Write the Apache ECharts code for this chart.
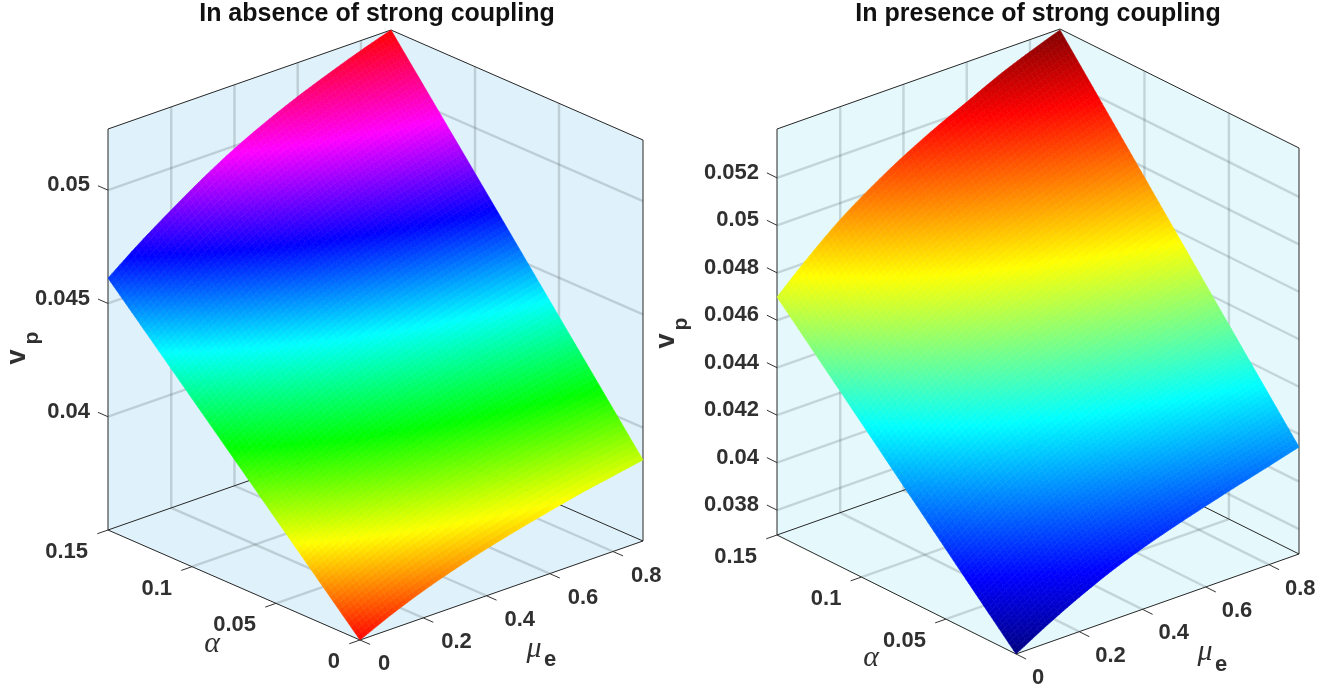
<!DOCTYPE html>
<html><head><meta charset="utf-8">
<style>html,body{margin:0;padding:0;background:#fff}#c{width:1343px;height:691px}</style>
<script src="https://cdn.jsdelivr.net/npm/echarts@6/dist/echarts.min.js"></script>
</head><body><div id="c"></div>
<script>
const titles = ['In absence of strong coupling', 'In presence of strong coupling'];
const muGrid = [0, 0.1, 0.2, 0.3, 0.4, 0.5, 0.6, 0.7, 0.8, 0.895];
const alphaGridLeft = [0, 0.05, 0.1, 0.15];
const alphaGridRight = [0.0085, 0.05, 0.1, 0.15];
const vpLeftA0 = [0.03500, 0.03564, 0.03619, 0.03666, 0.03707, 0.03743, 0.03776, 0.03807, 0.03833, 0.03858];
const vpLeftA1 = [0.03871, 0.03949, 0.04018, 0.04079, 0.04134, 0.04181, 0.04224, 0.04263, 0.04297, 0.04329];
const vpLeftA2 = [0.04242, 0.04334, 0.04417, 0.04492, 0.04561, 0.04619, 0.04672, 0.04719, 0.04761, 0.04800];
const vpLeftA3 = [0.04612, 0.04718, 0.04815, 0.04906, 0.04988, 0.05058, 0.05120, 0.05175, 0.05226, 0.05270];
const vpRightA0 = [0.03695, 0.03771, 0.03840, 0.03901, 0.03952, 0.03996, 0.04036, 0.04074, 0.04110, 0.04146];
const vpRightA1 = [0.03989, 0.04079, 0.04160, 0.04230, 0.04290, 0.04343, 0.04389, 0.04434, 0.04476, 0.04514];
const vpRightA2 = [0.04344, 0.04449, 0.04545, 0.04626, 0.04696, 0.04757, 0.04812, 0.04867, 0.04915, 0.04958];
const vpRightA3 = [0.04698, 0.04820, 0.04930, 0.05022, 0.05103, 0.05174, 0.05237, 0.05301, 0.05355, 0.05402];
const muTicks = [0, 0.2, 0.4, 0.6, 0.8];
const alphaTicksLeft = [0, 0.05, 0.1, 0.15];
const alphaTicksRight = [0.05, 0.1, 0.15];
const vpTicksLeft = [0.04, 0.045, 0.05];
const vpTicksRight = [0.038, 0.04, 0.042, 0.044, 0.046, 0.048, 0.05, 0.052];

const hsvMap = t => {
  const h = ((t % 1) + 1) % 1 * 6, i = Math.floor(h), f = h - i;
  return [[1, f, 0], [1 - f, 1, 0], [0, 1, f], [0, 1 - f, 1], [f, 0, 1], [1, 0, 1 - f]][i];
};
const jetMap = t => {
  const r = Math.min(Math.max(Math.min(4 * t - 1.5, -4 * t + 4.5), 0), 1);
  const g = Math.min(Math.max(Math.min(4 * t - 0.5, -4 * t + 3.5), 0), 1);
  const b = Math.min(Math.max(Math.min(4 * t + 0.5, -4 * t + 2.5), 0), 1);
  return [r, g, b];
};
const rgb = c => 'rgb(' + c.map(v => Math.round(v * 255)).join(',') + ')';

const panels = [
  { F: [360, 640], muV: [283, -99], aV: [-252, -110], H: 401, wall: '#dff1fa',
    aMin: 0, zMin: 0.0350, zMax: 0.0527, cmap: hsvMap, alphaGrid: alphaGridLeft,
    vp: [vpLeftA0, vpLeftA1, vpLeftA2, vpLeftA3], aTicks: alphaTicksLeft, zTicks: vpTicksLeft,
    vName: [18, 357, 32, 338], alphaName: [212, 644], muName: [534, 649, 550, 660], muDx: 18 },
  { F: [1016, 654], muV: [283, -100], aV: [-239, -119], H: 406, wall: '#e5f9fd',
    aMin: 0.0085, zMin: 0.03695, zMax: 0.05406, cmap: jetMap, alphaGrid: alphaGridRight,
    vp: [vpRightA0, vpRightA1, vpRightA2, vpRightA3], aTicks: alphaTicksRight, zTicks: vpTicksRight,
    vName: [667, 341, 681, 324], alphaName: [871, 658], muName: [1205, 652, 1221, 665], muDx: 16 }
];
const muMin = 0, muMax = 0.895, aMax = 0.15;

function proj(p, mu, alpha, z, api) {
  const m = (mu - muMin) / (muMax - muMin), a = (alpha - p.aMin) / (aMax - p.aMin), h = (z - p.zMin) / (p.zMax - p.zMin);
  return api.coord([p.F[0] + m * p.muV[0] + a * p.aV[0], p.F[1] + m * p.muV[1] + a * p.aV[1] - h * p.H]);
}
const FONT = '"Liberation Sans", Arial, sans-serif';
const INK = '#303030';
function line(pts, color, w) {
  return { type: 'polyline', shape: { points: pts }, style: { stroke: color, lineWidth: w, fill: null }, silent: true };
}
function txt(s, x, y, align, font, extra) {
  return Object.assign({ type: 'text', x: x, y: y, silent: true,
    style: { text: s, fill: INK, font: font, align: align, verticalAlign: 'middle' } }, extra || {});
}
const fmt = v => String(+v.toFixed(4));

function renderFrame(p, api) {
  const P = (mu, al, z) => proj(p, mu, al, z, api);
  const kids = [];
  const z0 = p.zMin, z1 = p.zMax, a0 = p.aMin, a1 = aMax, m0 = muMin, m1 = muMax;
  const poly = pts => ({ type: 'polygon', shape: { points: pts }, style: { fill: p.wall }, silent: true });
  kids.push(poly([P(m0, a1, z0), P(m1, a1, z0), P(m1, a1, z1), P(m0, a1, z1)]));
  kids.push(poly([P(m1, a1, z0), P(m1, a0, z0), P(m1, a0, z1), P(m1, a1, z1)]));
  kids.push(poly([P(m0, a0, z0), P(m1, a0, z0), P(m1, a1, z0), P(m0, a1, z0)]));
  const G = 'rgba(60,70,70,0.2)';
  p.zTicks.forEach(z => kids.push(line([P(m0, a1, z), P(m1, a1, z), P(m1, a0, z)], G, 2.4)));
  muTicks.forEach(mu => { if (mu > 0) kids.push(line([P(mu, a0, z0), P(mu, a1, z0), P(mu, a1, z1)], G, 2.4)); });
  p.aTicks.forEach(al => { if (al < a1 && al > 0) kids.push(line([P(m0, al, z0), P(m1, al, z0), P(m1, al, z1)], G, 2.4)); });
  const K = '#262626';
  kids.push(line([P(m0, a1, z1), P(m0, a1, z0), P(m0, a0, z0), P(m1, a0, z0), P(m1, a0, z1), P(m1, a1, z1), P(m0, a1, z1)], K, 1));
  kids.push(line([P(m0, a1, z0), P(m1, a1, z0), P(m1, a0, z0)], K, 1));
  return { type: 'group', children: kids };
}
// smooth drawing of a row of read values between grid columns
function rowAt(row, i, s) {
  const p1 = row[i], p2 = row[i + 1];
  const p0 = i > 0 ? row[i - 1] : 2 * p1 - p2;
  const p3 = i + 2 < row.length ? row[i + 2] : 2 * p2 - p1;
  return 0.5 * (2 * p1 + (p2 - p0) * s + (2 * p0 - 5 * p1 + 4 * p2 - p3) * s * s + (3 * p1 - p0 - 3 * p2 + p3) * s * s * s);
}
function renderSurface(p, i, j, api) {
  const kids = [], ns = 8, nt = 28;
  const vp = p.vp, ag = p.alphaGrid;
  const at = (s, t) => {
    const mu = muGrid[i] + (muGrid[i + 1] - muGrid[i]) * s;
    const al = ag[j] + (ag[j + 1] - ag[j]) * t;
    const z = (1 - t) * rowAt(vp[j], i, s) + t * rowAt(vp[j + 1], i, s);
    return [mu, al, z];
  };
  for (let s = 0; s < ns; s++) for (let t = 0; t < nt; t++) {
    const c = [at(s / ns, t / nt), at((s + 1) / ns, t / nt), at((s + 1) / ns, (t + 1) / nt), at(s / ns, (t + 1) / nt)];
    const mid = at((s + .5) / ns, (t + .5) / nt);
    const col = rgb(p.cmap((mid[2] - p.zMin) / (p.zMax - p.zMin)));
    kids.push({ type: 'polygon', silent: true, shape: { points: c.map(q => proj(p, q[0], q[1], q[2], api)) },
      style: { fill: col, stroke: col, lineWidth: 0.6 } });
  }
  return { type: 'group', children: kids };
}
function renderText(p, api) {
  const P = (mu, al, z) => proj(p, mu, al, z, api);
  const kids = [], K = '#333333';
  const tickFont = 'bold 22px ' + FONT;
  const m0 = muMin, a0 = p.aMin, a1 = aMax, z0 = p.zMin;
  const dm = 0.034, da = 0.006;
  p.zTicks.forEach(z => {
    const q = P(m0, a1, z), r = P(m0, a1 + da, z);
    kids.push(line([q, r], K, 1));
    kids.push(txt(fmt(z), q[0] - 18, q[1] - 5, 'right', tickFont));
  });
  p.aTicks.forEach(al => {
    const q = P(m0, al, z0), r = P(m0 - dm, al, z0);
    kids.push(line([q, r], K, 1));
    kids.push(txt(fmt(al), q[0] - 20, q[1] + 22, 'right', tickFont));
  });
  muTicks.forEach(mu => {
    const q = P(mu, a0, z0), r = P(mu, a0 - da, z0);
    kids.push(line([q, r], K, 1));
    kids.push(txt(fmt(mu), q[0] + p.muDx, q[1] + 24, 'left', tickFont));
  });
  const c = (x, y) => api.coord([x, y]);
  let q = c(p.vName[0], p.vName[1]);
  kids.push(txt('v', q[0], q[1], 'center', 'bold 27px ' + FONT, { rotation: Math.PI / 2 }));
  q = c(p.vName[2], p.vName[3]);
  kids.push(txt('p', q[0], q[1], 'center', 'bold 21px ' + FONT, { rotation: Math.PI / 2 }));
  q = c(p.alphaName[0], p.alphaName[1]);
  kids.push(txt('\u03b1', q[0], q[1], 'center', 'italic 30px "Liberation Serif", serif'));
  q = c(p.muName[0], p.muName[1]);
  kids.push(txt('\u03bc', q[0], q[1], 'center', 'italic 30px "Liberation Serif", serif'));
  q = c(p.muName[2], p.muName[3]);
  kids.push(txt('e', q[0], q[1], 'center', 'bold 22px ' + FONT));
  return { type: 'group', children: kids };
}

const series = [];
panels.forEach(p => {
  series.push({ type: 'custom', coordinateSystem: 'cartesian2d', clip: false, silent: true, z: 1,
    data: [[0, 0]], renderItem: (params, api) => renderFrame(p, api) });
  const cells = [];
  for (let j = 0; j < p.vp.length - 1; j++) for (let i = 0; i < muGrid.length - 1; i++) cells.push([i, j]);
  series.push({ type: 'custom', coordinateSystem: 'cartesian2d', clip: false, silent: true, z: 2,
    data: cells, renderItem: (params, api) => renderSurface(p, api.value(0), api.value(1), api) });
  series.push({ type: 'custom', coordinateSystem: 'cartesian2d', clip: false, silent: true, z: 3,
    data: [[0, 0]], renderItem: (params, api) => renderText(p, api) });
});

const titleStyle = { fontFamily: FONT, fontWeight: 'bold', fontSize: 25, color: '#111111' };
const chart = echarts.init(document.getElementById('c'), null, { renderer: 'canvas' });
chart.setOption({
  animation: false,
  backgroundColor: '#ffffff',
  title: [
    { text: titles[0], left: 377, top: 2, padding: 0, textAlign: 'center', textStyle: titleStyle },
    { text: titles[1], left: 1038, top: 2, padding: 0, textAlign: 'center', textStyle: titleStyle }
  ],
  grid: { left: 0, right: 0, top: 0, bottom: 0 },
  xAxis: { type: 'value', min: 0, max: 1343, show: false },
  yAxis: { type: 'value', min: 0, max: 691, inverse: true, show: false },
  series: series
});
</script></body></html>
